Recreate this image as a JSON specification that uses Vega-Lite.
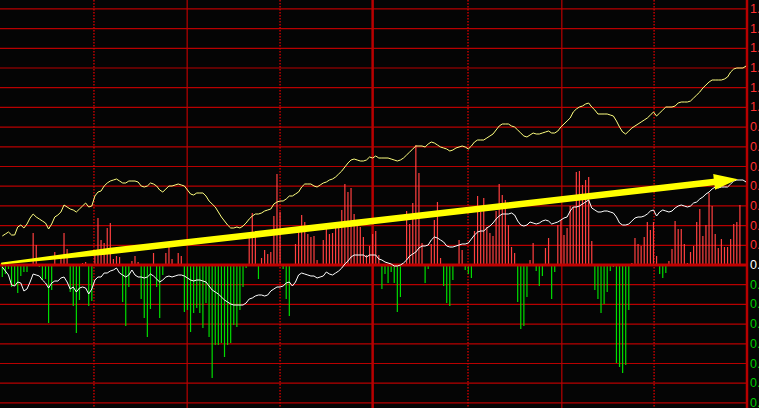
{
"$schema": "https://vega.github.io/schema/vega-lite/v6.json",
"width": 747,
"height": 408,
"autosize": {"type": "none"},
"padding": {"left": 0, "top": 0, "right": 12, "bottom": 0},
"background": "#050505",
"config": {"view": {"stroke": null}},
"datasets": {
"m": [
{"t":0,"b":-0.12,"w":-0.02,"y":0.29},{"t":1,"b":-0.09,"w":-0.06,"y":0.31},{"t":2,"b":-0.04,"w":-0.10,"y":0.33},{"t":3,"b":-0.22,"w":-0.20,"y":0.30},{"t":4,"b":-0.21,"w":-0.21,"y":0.30},
{"t":5,"b":-0.28,"w":-0.17,"y":0.38},{"t":6,"b":-0.11,"w":-0.18,"y":0.40},{"t":7,"b":-0.07,"w":-0.26,"y":0.37},{"t":8,"b":-0.07,"w":-0.24,"y":0.41},{"t":9,"b":0.01,"w":-0.17,"y":0.47},
{"t":10,"b":0.32,"w":-0.09,"y":0.51},{"t":11,"b":0.20,"w":-0.10,"y":0.48},{"t":12,"b":-0.02,"w":-0.11,"y":0.46},{"t":13,"b":-0.15,"w":-0.15,"y":0.44},{"t":14,"b":-0.14,"w":-0.18,"y":0.42},
{"t":15,"b":-0.58,"w":-0.23,"y":0.36},{"t":16,"b":-0.25,"w":-0.18,"y":0.41},{"t":17,"b":0.13,"w":-0.16,"y":0.48},{"t":18,"b":0.01,"w":-0.16,"y":0.50},{"t":19,"b":0.10,"w":-0.13,"y":0.53},
{"t":20,"b":0.32,"w":-0.12,"y":0.60},{"t":21,"b":0.16,"w":-0.17,"y":0.58},{"t":22,"b":-0.27,"w":-0.24,"y":0.56},{"t":23,"b":-0.41,"w":-0.22,"y":0.55},{"t":24,"b":-0.68,"w":-0.27,"y":0.53},
{"t":25,"b":-0.35,"w":-0.23,"y":0.56},{"t":26,"b":0.02,"w":-0.22,"y":0.59},{"t":27,"b":0.03,"w":-0.23,"y":0.62},{"t":28,"b":-0.41,"w":-0.29,"y":0.58},{"t":29,"b":-0.36,"w":-0.24,"y":0.59},
{"t":30,"b":0.11,"w":-0.15,"y":0.69},{"t":31,"b":0.47,"w":-0.12,"y":0.73},{"t":32,"b":0.25,"w":-0.12,"y":0.74},{"t":33,"b":0.22,"w":-0.08,"y":0.79},{"t":34,"b":0.37,"w":-0.08,"y":0.82},
{"t":35,"b":0.42,"w":-0.06,"y":0.84},{"t":36,"b":0.06,"w":-0.05,"y":0.85},{"t":37,"b":0.09,"w":-0.03,"y":0.86},{"t":38,"b":0.08,"w":-0.08,"y":0.84},{"t":39,"b":-0.37,"w":-0.10,"y":0.82},
{"t":40,"b":-0.61,"w":-0.12,"y":0.82},{"t":41,"b":-0.22,"w":-0.10,"y":0.84},{"t":42,"b":0.04,"w":-0.05,"y":0.84},{"t":43,"b":0.09,"w":-0.10,"y":0.84},{"t":44,"b":0.03,"w":-0.12,"y":0.83},
{"t":45,"b":-0.34,"w":-0.12,"y":0.79},{"t":46,"b":-0.53,"w":-0.13,"y":0.78},{"t":47,"b":-0.72,"w":-0.12,"y":0.79},{"t":48,"b":-0.44,"w":-0.09,"y":0.82},{"t":49,"b":0.12,"w":-0.11,"y":0.81},
{"t":50,"b":-0.22,"w":-0.14,"y":0.79},{"t":51,"b":-0.53,"w":-0.17,"y":0.75},{"t":52,"b":-0.10,"w":-0.15,"y":0.73},{"t":53,"b":0.12,"w":-0.12,"y":0.76},{"t":54,"b":0.23,"w":-0.11,"y":0.79},
{"t":55,"b":0.06,"w":-0.12,"y":0.79},{"t":56,"b":-0.01,"w":-0.11,"y":0.80},{"t":57,"b":0.12,"w":-0.10,"y":0.81},{"t":58,"b":0.09,"w":-0.10,"y":0.80},{"t":59,"b":-0.47,"w":-0.11,"y":0.79},
{"t":60,"b":-0.45,"w":-0.13,"y":0.75},{"t":61,"b":-0.67,"w":-0.15,"y":0.71},{"t":62,"b":-0.48,"w":-0.16,"y":0.70},{"t":63,"b":-0.43,"w":-0.15,"y":0.72},{"t":64,"b":-0.48,"w":-0.15,"y":0.72},
{"t":65,"b":-0.63,"w":-0.16,"y":0.72},{"t":66,"b":-0.38,"w":-0.17,"y":0.69},{"t":67,"b":-0.72,"w":-0.21,"y":0.64},{"t":68,"b":-1.13,"w":-0.25,"y":0.61},{"t":69,"b":-0.80,"w":-0.27,"y":0.58},
{"t":70,"b":-0.80,"w":-0.29,"y":0.53},{"t":71,"b":-0.78,"w":-0.32,"y":0.48},{"t":72,"b":-0.92,"w":-0.35,"y":0.44},{"t":73,"b":-0.80,"w":-0.37,"y":0.40},{"t":74,"b":-0.78,"w":-0.39,"y":0.37},
{"t":75,"b":-0.60,"w":-0.40,"y":0.37},{"t":76,"b":-0.62,"w":-0.40,"y":0.38},{"t":77,"b":-0.45,"w":-0.40,"y":0.37},{"t":78,"b":-0.22,"w":-0.40,"y":0.39},{"t":79,"b":-0.03,"w":-0.38,"y":0.42},
{"t":80,"b":0.32,"w":-0.34,"y":0.46},{"t":81,"b":0.52,"w":-0.33,"y":0.49},{"t":82,"b":0.34,"w":-0.31,"y":0.51},{"t":83,"b":-0.14,"w":-0.30,"y":0.51},{"t":84,"b":0.07,"w":-0.30,"y":0.52},
{"t":85,"b":0.15,"w":-0.31,"y":0.54},{"t":86,"b":0.11,"w":-0.30,"y":0.55},{"t":87,"b":0.13,"w":-0.26,"y":0.56},{"t":88,"b":0.49,"w":-0.24,"y":0.61},{"t":89,"b":0.91,"w":-0.22,"y":0.63},
{"t":90,"b":0.53,"w":-0.22,"y":0.64},{"t":91,"b":-0.04,"w":-0.21,"y":0.64},{"t":92,"b":-0.34,"w":-0.18,"y":0.66},{"t":93,"b":-0.51,"w":-0.17,"y":0.69},{"t":94,"b":-0.01,"w":-0.21,"y":0.69},
{"t":95,"b":0.21,"w":-0.17,"y":0.71},{"t":96,"b":0.38,"w":-0.10,"y":0.73},{"t":97,"b":0.50,"w":-0.08,"y":0.78},{"t":98,"b":0.43,"w":-0.09,"y":0.81},{"t":99,"b":0.31,"w":-0.10,"y":0.81},
{"t":100,"b":0.28,"w":-0.11,"y":0.81},{"t":101,"b":0.29,"w":-0.11,"y":0.79},{"t":102,"b":0.05,"w":-0.13,"y":0.78},{"t":103,"b":-0.01,"w":-0.12,"y":0.80},{"t":104,"b":0.25,"w":-0.11,"y":0.82},
{"t":105,"b":0.36,"w":-0.07,"y":0.83},{"t":106,"b":0.31,"w":-0.09,"y":0.85},{"t":107,"b":0.32,"w":-0.10,"y":0.86},{"t":108,"b":0.42,"w":-0.08,"y":0.88},{"t":109,"b":0.38,"w":-0.06,"y":0.91},
{"t":110,"b":0.55,"w":-0.03,"y":0.94},{"t":111,"b":0.81,"w":0.01,"y":0.98},{"t":112,"b":0.73,"w":0.04,"y":1.02},{"t":113,"b":0.77,"w":0.08,"y":1.05},{"t":114,"b":0.51,"w":0.10,"y":1.06},
{"t":115,"b":0.45,"w":0.10,"y":1.05},{"t":116,"b":0.38,"w":0.10,"y":1.04},{"t":117,"b":0.28,"w":0.10,"y":1.04},{"t":118,"b":0.10,"w":0.08,"y":1.05},{"t":119,"b":0.19,"w":0.10,"y":1.08},
{"t":120,"b":0.31,"w":0.10,"y":1.07},{"t":121,"b":0.34,"w":0.10,"y":1.09},{"t":122,"b":0.10,"w":0.06,"y":1.07},{"t":123,"b":-0.24,"w":0.05,"y":1.07},{"t":124,"b":-0.09,"w":0.03,"y":1.07},
{"t":125,"b":-0.18,"w":0.02,"y":1.07},{"t":126,"b":-0.07,"w":0.01,"y":1.06},{"t":127,"b":-0.18,"w":-0.01,"y":1.05},{"t":128,"b":-0.47,"w":-0.01,"y":1.04},{"t":129,"b":-0.32,"w":0.00,"y":1.05},
{"t":130,"b":0.01,"w":0.02,"y":1.07},{"t":131,"b":0.54,"w":0.05,"y":1.10},{"t":132,"b":0.41,"w":0.09,"y":1.13},{"t":133,"b":0.62,"w":0.11,"y":1.16},{"t":134,"b":1.20,"w":0.13,"y":1.19},
{"t":135,"b":0.92,"w":0.17,"y":1.19},{"t":136,"b":0.22,"w":0.19,"y":1.19},{"t":137,"b":-0.18,"w":0.19,"y":1.18},{"t":138,"b":-0.04,"w":0.20,"y":1.21},{"t":139,"b":0.21,"w":0.25,"y":1.23},
{"t":140,"b":0.45,"w":0.28,"y":1.22},{"t":141,"b":0.63,"w":0.27,"y":1.20},{"t":142,"b":0.07,"w":0.25,"y":1.18},{"t":143,"b":-0.21,"w":0.23,"y":1.17},{"t":144,"b":-0.38,"w":0.19,"y":1.16},
{"t":145,"b":-0.41,"w":0.18,"y":1.14},{"t":146,"b":-0.15,"w":0.18,"y":1.15},{"t":147,"b":-0.01,"w":0.19,"y":1.17},{"t":148,"b":0.25,"w":0.20,"y":1.18},{"t":149,"b":0.15,"w":0.21,"y":1.19},
{"t":150,"b":-0.05,"w":0.21,"y":1.18},{"t":151,"b":-0.09,"w":0.22,"y":1.16},{"t":152,"b":-0.13,"w":0.26,"y":1.19},{"t":153,"b":0.34,"w":0.30,"y":1.23},{"t":154,"b":0.69,"w":0.33,"y":1.25},
{"t":155,"b":0.53,"w":0.34,"y":1.25},{"t":156,"b":0.67,"w":0.34,"y":1.25},{"t":157,"b":0.38,"w":0.37,"y":1.27},{"t":158,"b":0.32,"w":0.39,"y":1.29},{"t":159,"b":0.29,"w":0.42,"y":1.31},
{"t":160,"b":0.54,"w":0.46,"y":1.35},{"t":161,"b":0.81,"w":0.49,"y":1.39},{"t":162,"b":0.70,"w":0.51,"y":1.41},{"t":163,"b":0.65,"w":0.51,"y":1.41},{"t":164,"b":0.40,"w":0.51,"y":1.41},
{"t":165,"b":0.18,"w":0.52,"y":1.39},{"t":166,"b":0.12,"w":0.50,"y":1.38},{"t":167,"b":-0.37,"w":0.44,"y":1.35},{"t":168,"b":-0.64,"w":0.40,"y":1.32},{"t":169,"b":-0.61,"w":0.39,"y":1.29},
{"t":170,"b":-0.32,"w":0.40,"y":1.28},{"t":171,"b":0.05,"w":0.43,"y":1.30},{"t":172,"b":0.22,"w":0.42,"y":1.32},{"t":173,"b":-0.06,"w":0.41,"y":1.31},{"t":174,"b":-0.21,"w":0.42,"y":1.31},
{"t":175,"b":-0.11,"w":0.44,"y":1.32},{"t":176,"b":0.17,"w":0.45,"y":1.33},{"t":177,"b":0.27,"w":0.44,"y":1.34},{"t":178,"b":-0.34,"w":0.41,"y":1.32},{"t":179,"b":-0.07,"w":0.42,"y":1.32},
{"t":180,"b":0.40,"w":0.43,"y":1.34},{"t":181,"b":0.45,"w":0.45,"y":1.38},{"t":182,"b":0.30,"w":0.47,"y":1.41},{"t":183,"b":0.37,"w":0.48,"y":1.44},{"t":184,"b":0.59,"w":0.54,"y":1.47},
{"t":185,"b":0.58,"w":0.58,"y":1.53},{"t":186,"b":0.93,"w":0.58,"y":1.56},{"t":187,"b":0.94,"w":0.59,"y":1.58},{"t":188,"b":0.80,"w":0.61,"y":1.59},{"t":189,"b":0.85,"w":0.63,"y":1.61},
{"t":190,"b":0.88,"w":0.65,"y":1.62},{"t":191,"b":0.24,"w":0.57,"y":1.58},{"t":192,"b":-0.25,"w":0.55,"y":1.55},{"t":193,"b":-0.34,"w":0.53,"y":1.51},{"t":194,"b":-0.48,"w":0.53,"y":1.51},
{"t":195,"b":-0.39,"w":0.54,"y":1.51},{"t":196,"b":-0.27,"w":0.54,"y":1.51},{"t":197,"b":-0.06,"w":0.53,"y":1.50},{"t":198,"b":-0.02,"w":0.52,"y":1.49},{"t":199,"b":-0.98,"w":0.48,"y":1.44},
{"t":200,"b":-1.02,"w":0.42,"y":1.38},{"t":201,"b":-1.08,"w":0.40,"y":1.33},{"t":202,"b":-1.00,"w":0.40,"y":1.31},{"t":203,"b":-0.45,"w":0.41,"y":1.34},{"t":204,"b":0.02,"w":0.44,"y":1.37},
{"t":205,"b":0.27,"w":0.47,"y":1.39},{"t":206,"b":0.21,"w":0.48,"y":1.41},{"t":207,"b":0.19,"w":0.48,"y":1.43},{"t":208,"b":0.28,"w":0.49,"y":1.45},{"t":209,"b":0.43,"w":0.51,"y":1.47},
{"t":210,"b":0.35,"w":0.54,"y":1.50},{"t":211,"b":0.43,"w":0.55,"y":1.53},{"t":212,"b":0.09,"w":0.49,"y":1.49},{"t":213,"b":-0.09,"w":0.53,"y":1.52},{"t":214,"b":-0.13,"w":0.55,"y":1.55},
{"t":215,"b":-0.08,"w":0.54,"y":1.58},{"t":216,"b":0.04,"w":0.53,"y":1.58},{"t":217,"b":0.16,"w":0.54,"y":1.58},{"t":218,"b":0.44,"w":0.57,"y":1.59},{"t":219,"b":0.36,"w":0.59,"y":1.62},
{"t":220,"b":0.36,"w":0.60,"y":1.63},{"t":221,"b":0.21,"w":0.59,"y":1.63},{"t":222,"b":0.02,"w":0.58,"y":1.63},{"t":223,"b":0.13,"w":0.59,"y":1.64},{"t":224,"b":0.19,"w":0.62,"y":1.67},
{"t":225,"b":0.43,"w":0.63,"y":1.70},{"t":226,"b":0.56,"w":0.66,"y":1.73},{"t":227,"b":0.29,"w":0.68,"y":1.77},{"t":228,"b":0.40,"w":0.71,"y":1.80},{"t":229,"b":0.72,"w":0.73,"y":1.83},
{"t":230,"b":0.59,"w":0.76,"y":1.85},{"t":231,"b":0.31,"w":0.78,"y":1.85},{"t":232,"b":0.17,"w":0.77,"y":1.85},{"t":233,"b":0.26,"w":0.78,"y":1.85},{"t":234,"b":0.18,"w":0.78,"y":1.86},
{"t":235,"b":0.18,"w":0.78,"y":1.88},{"t":236,"b":0.26,"w":0.81,"y":1.93},{"t":237,"b":0.41,"w":0.84,"y":1.96},{"t":238,"b":0.43,"w":0.85,"y":1.97},{"t":239,"b":0.60,"w":0.85,"y":1.97},
{"t":240,"w":0.85,"y":1.97},{"t":241,"w":0.83,"y":1.99}
],
"arrow": [{"t":-0.1,"v":0.015},{"t":35,"v":0.139},{"t":231.9,"v":0.8355}],
"head": [{"t":234.5,"v":0.845}],
"levels": [{"v":-1.379,"label":"0."},{"v":-1.182,"label":"0."},{"v":-0.985,"label":"0."},{"v":-0.788,"label":"0."},{"v":-0.591,"label":"0."},{"v":-0.394,"label":"0."},{"v":-0.197,"label":"0."},{"v":0,"label":"0."},{"v":0.197,"label":"0."},{"v":0.394,"label":"0."},{"v":0.591,"label":"0."},{"v":0.788,"label":"0."},{"v":0.985,"label":"0."},{"v":1.182,"label":"0."},{"v":1.379,"label":"0."},{"v":1.576,"label":"1."},{"v":1.773,"label":"1."},{"v":1.97,"label":"1."},{"v":2.167,"label":"1."},{"v":2.364,"label":"1."},{"v":2.561,"label":"1."}]
},
"layer": [
{
"data": {"name": "levels"},
"mark": {"type": "rule", "color": "#b80000", "strokeWidth": 1.2},
"encoding": {"y": {"field": "v", "type": "quantitative", "scale": {"domain": [-1.43, 2.65], "nice": false, "zero": false}, "axis": null}}
},
{
"data": {"values": [{"t":29.7},{"t":90},{"t":150.9},{"t":211.2}]},
"mark": {"type": "rule", "color": "#d00000", "strokeWidth": 1.4, "strokeDash": [1.5, 1.5]},
"encoding": {"x": {"field": "t", "type": "quantitative", "scale": {"domain": [-0.745, 241.3], "nice": false, "zero": false}, "axis": null}}
},
{
"data": {"values": [{"t":59.9},{"t":181.3}]},
"mark": {"type": "rule", "color": "#b80000", "strokeWidth": 1.2},
"encoding": {"x": {"field": "t", "type": "quantitative", "scale": {"domain": [-0.745, 241.3], "nice": false, "zero": false}, "axis": null}}
},
{
"data": {"values": [{"t":120},{"t":241.3}]},
"mark": {"type": "rule", "color": "#b80000", "strokeWidth": 2.5},
"encoding": {"x": {"field": "t", "type": "quantitative", "scale": {"domain": [-0.745, 241.3], "nice": false, "zero": false}, "axis": null}}
},
{
"data": {"name": "m"},
"transform": [{"filter": "isValid(datum.b)"}],
"mark": {"type": "rule", "strokeWidth": 1.2},
"encoding": {
"x": {"field": "t", "type": "quantitative", "scale": {"domain": [-0.745, 241.3], "nice": false, "zero": false}, "axis": null},
"y": {"field": "b", "type": "quantitative", "scale": {"domain": [-1.43, 2.65], "nice": false, "zero": false}, "axis": null},
"y2": {"datum": 0},
"color": {"condition": {"test": "datum.b > 0", "value": "#ff4040"}, "value": "#00dd00"}
}
},
{
"data": {"values": [{"z": 0}]},
"mark": {"type": "rule", "color": "#c00000", "strokeWidth": 3},
"encoding": {"y": {"field": "z", "type": "quantitative", "scale": {"domain": [-1.43, 2.65], "nice": false, "zero": false}, "axis": null}}
},
{
"data": {"name": "levels"},
"mark": {"type": "text", "font": "Liberation Sans", "fontSize": 12.5, "align": "left", "baseline": "middle", "dx": 3},
"encoding": {
"x": {"datum": 241.3, "type": "quantitative", "scale": {"domain": [-0.745, 241.3], "nice": false, "zero": false}, "axis": null},
"y": {"field": "v", "type": "quantitative", "scale": {"domain": [-1.43, 2.65], "nice": false, "zero": false}, "axis": null},
"text": {"field": "label"},
"color": {"condition": [{"test": "datum.v > 0.01", "value": "#ff3030"}, {"test": "datum.v < -0.01", "value": "#00cc00"}], "value": "#ffffff"}
}
},
{
"data": {"name": "m"},
"mark": {"type": "line", "color": "#ffffff", "strokeWidth": 1},
"encoding": {
"x": {"field": "t", "type": "quantitative", "scale": {"domain": [-0.745, 241.3], "nice": false, "zero": false}, "axis": null},
"y": {"field": "w", "type": "quantitative", "scale": {"domain": [-1.43, 2.65], "nice": false, "zero": false}, "axis": null}
}
},
{
"data": {"name": "m"},
"mark": {"type": "line", "color": "#ffff80", "strokeWidth": 1},
"encoding": {
"x": {"field": "t", "type": "quantitative", "scale": {"domain": [-0.745, 241.3], "nice": false, "zero": false}, "axis": null},
"y": {"field": "y", "type": "quantitative", "scale": {"domain": [-1.43, 2.65], "nice": false, "zero": false}, "axis": null}
}
},
{
"data": {"name": "arrow"},
"mark": {"type": "trail", "color": "#ffff00"},
"encoding": {
"x": {"field": "t", "type": "quantitative", "scale": {"domain": [-0.745, 241.3], "nice": false, "zero": false}, "axis": null},
"y": {"field": "v", "type": "quantitative", "scale": {"domain": [-1.43, 2.65], "nice": false, "zero": false}, "axis": null},
"size": {"field": "t", "type": "quantitative", "scale": {"domain": [0, 35], "range": [2, 6.5], "clamp": true, "zero": false}, "legend": null}
}
},
{
"data": {"name": "head"},
"mark": {"type": "point", "filled": true, "color": "#ffff00", "opacity": 1, "size": 576, "angle": 353.5, "shape": "M1,0L-1,-0.667L-1,0.667Z", "strokeWidth": 0},
"encoding": {
"x": {"field": "t", "type": "quantitative", "scale": {"domain": [-0.745, 241.3], "nice": false, "zero": false}, "axis": null},
"y": {"field": "v", "type": "quantitative", "scale": {"domain": [-1.43, 2.65], "nice": false, "zero": false}, "axis": null}
}
}
]
}
